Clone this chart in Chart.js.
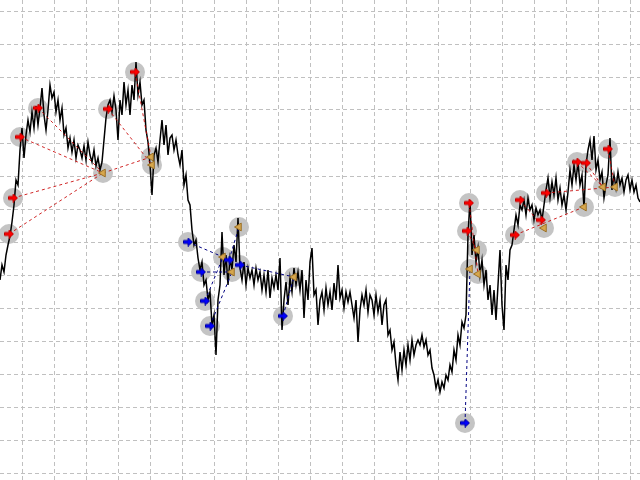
<!DOCTYPE html>
<html>
<head>
<meta charset="utf-8">
<script src="https://cdn.jsdelivr.net/npm/chart.js@4.4.0/dist/chart.umd.min.js"></script>
<style>
  html, body { margin: 0; padding: 0; background: #fff; }
  #wrap { width: 640px; height: 480px; }
</style>
</head>
<body>
<div id="wrap"><canvas id="chart" width="640" height="480"></canvas></div>
<script>
// closing prices, one per bar
const closes = [
  200, 215, 208, 225, 235, 244, 258, 275, 300, 295, 330, 352, 322, 345, 360, 348, 368, 352, 374, 355,
  372, 392, 365, 350, 370, 395, 382, 388, 368, 380, 360, 372, 345, 352, 332, 342, 328, 340, 322, 335,
  330, 322, 334, 320, 338, 325, 318, 330, 314, 322, 310, 318, 340, 362, 375, 380, 368, 384, 370, 340,
  380, 365, 398, 375, 390, 365, 395, 380, 418, 385, 398, 375, 380, 350, 338, 315, 285, 325, 332, 318,
  340, 360, 335, 355, 325, 342, 345, 330, 340, 325, 315, 330, 295, 305, 280, 275, 250, 235, 240, 222,
  210, 218, 195, 200, 180, 188, 155, 165, 125, 180, 195, 248, 205, 225, 195, 222, 210, 235, 218, 262,
  212, 200, 218, 195, 212, 202, 210, 195, 212, 200, 208, 190, 205, 188, 210, 182, 202, 192, 205, 190,
  222, 150, 180, 198, 175, 202, 188, 212, 195, 208, 190, 210, 162, 200, 180, 218, 232, 185, 190, 155,
  180, 188, 170, 192, 175, 188, 170, 197, 180, 215, 182, 190, 172, 188, 178, 188, 175, 162, 180, 138,
  170, 185, 175, 190, 168, 185, 180, 165, 185, 168, 180, 155, 175, 180, 145, 150, 130, 138, 115, 100,
  128, 110, 130, 115, 135, 120, 140, 125, 135, 140, 135, 145, 133, 140, 125, 130, 112, 105, 92, 100,
  88, 98, 92, 105, 100, 115, 108, 130, 120, 145, 135, 158, 152, 165, 245, 280, 225, 245, 218, 232,
  205, 220, 195, 210, 180, 195, 165, 190, 160, 195, 230, 175, 150, 215, 200, 230, 235, 250, 265, 255,
  275, 270, 280, 265, 282, 270, 275, 260, 272, 265, 270, 260, 275, 290, 302, 282, 298, 285, 302, 280,
  292, 275, 285, 270, 288, 310, 295, 315, 300, 318, 295, 305, 272, 315, 330, 340, 320, 344, 310, 320,
  300, 308, 282, 295, 305, 342, 290, 305, 292, 308, 295, 302, 288, 300, 305, 290, 300, 288, 295, 282,
  278
];

// long entries (red arrows)
const entryBars   = [4.5, 6.5, 10, 19, 54, 67.5, 233.5, 234.5, 257.5, 260, 270.5, 273, 288.5, 293, 304];
const entryPrices = [246, 282, 343, 372, 371, 408, 249, 277, 245, 280, 260, 287, 318, 317, 331];

// exits (gold triangles)
const exitBars   = [51.5, 75.5, 76, 111.5, 116, 119.5, 147, 235, 238.5, 239, 272, 292, 301.5, 307.5];
const exitPrices = [307, 323, 315, 223, 208, 253, 203, 211, 230, 206, 252, 273, 293, 293];

// short entries (blue arrows)
const shortBars   = [94, 100.5, 102.5, 105, 114.5, 120, 141.5, 232.5];
const shortPrices = [238, 208, 179, 154, 220, 215, 164, 57];

// [entry index, exit index]
const entryLinks = [[0, 0], [1, 0], [2, 0], [3, 0], [4, 2], [5, 1], [6, 8], [7, 9],
  [8, 11], [9, 10], [11, 13], [12, 12], [13, 12], [14, 13]];
const exitLinks = [[0, 1]];
const shortLinks = [[0, 3], [1, 4], [2, 3], [3, 4], [4, 5], [5, 6], [6, 6], [7, 7]];

const xGridBars = [11, 27, 43, 59, 75, 91, 107, 123, 139, 155, 171, 187, 203, 219, 235, 251, 267, 283, 299, 315];
const yGridPrices = [7, 40, 73, 106, 139, 172, 205, 238, 271, 304, 337, 370, 403, 436, 469];

function arrowIcon( color, edge ) {
	const c = document.createElement( 'canvas' );
	c.width = 10;
	c.height = 9;
	const g = c.getContext( '2d' );
	g.fillStyle = color;
	g.strokeStyle = edge;
	g.lineWidth = 1;
	g.beginPath();
	g.moveTo( 0.5, 3 );
	g.lineTo( 5, 3 );
	g.lineTo( 5, 0.5 );
	g.lineTo( 9.5, 4.5 );
	g.lineTo( 5, 8.5 );
	g.lineTo( 5, 6 );
	g.lineTo( 0.5, 6 );
	g.closePath();
	g.fill();
	g.stroke();
	return c;
}

const pts = ( bars, prices ) => bars.map( ( b, i ) => ( { x: b, y: prices[ i ] } ) );
const entries = pts( entryBars, entryPrices );
const exits = pts( exitBars, exitPrices );
const shorts = pts( shortBars, shortPrices );

function link( a, b, color, order ) {
	return {
		type: 'line',
		data: [ a, b ],
		borderColor: color,
		borderWidth: 1,
		borderDash: [ 3, 3 ],
		pointRadius: 0,
		fill: false,
		order: order
	};
}

const datasets = [];

datasets.push( {
	type: 'scatter',
	data: entries.concat( exits, shorts ),
	pointRadius: 10,
	pointHoverRadius: 10,
	backgroundColor: '#c4c4c4',
	borderWidth: 0,
	order: 5
} );

datasets.push( {
	type: 'line',
	data: closes.map( ( v, i ) => ( { x: i, y: v } ) ),
	borderColor: '#000',
	borderWidth: 1.5,
	pointRadius: 0,
	tension: 0,
	order: 4
} );

entryLinks.forEach( ( [ a, b ] ) => datasets.push( link( entries[ a ], exits[ b ], 'rgba(200,0,0,0.85)', 3 ) ) );
exitLinks.forEach( ( [ a, b ] ) => datasets.push( link( exits[ a ], exits[ b ], 'rgba(200,0,0,0.85)', 3 ) ) );
shortLinks.forEach( ( [ a, b ] ) => datasets.push( link( shorts[ a ], exits[ b ], '#000080', 3 ) ) );

datasets.push( {
	type: 'scatter',
	data: exits,
	pointStyle: 'triangle',
	rotation: -90,
	pointRadius: 4.5,
	backgroundColor: '#d6a64c',
	borderColor: '#9a7028',
	borderWidth: 1,
	order: 1
} );

datasets.push( {
	type: 'scatter',
	data: entries,
	pointStyle: arrowIcon( '#ff0000', '#c00000' ),
	order: 0
} );

datasets.push( {
	type: 'scatter',
	data: shorts,
	pointStyle: arrowIcon( '#0000ff', '#0000a0' ),
	order: 0
} );

new Chart( document.getElementById( 'chart' ), {
	type: 'line',
	data: { datasets },
	options: {
		responsive: false,
		animation: false,
		events: [],
		layout: { padding: 0, autoPadding: false },
		plugins: { legend: { display: false }, tooltip: { enabled: false } },
		scales: {
			x: {
				type: 'linear',
				min: 0,
				max: 320,
				afterBuildTicks: axis => { axis.ticks = xGridBars.map( v => ( { value: v } ) ); },
				ticks: { display: false },
				grid: { color: '#c0c0c0', lineWidth: 1, drawTicks: false },
				border: { display: false, dash: [ 4, 3 ] }
			},
			y: {
				type: 'linear',
				min: 0,
				max: 480,
				afterBuildTicks: axis => { axis.ticks = yGridPrices.map( v => ( { value: v } ) ); },
				ticks: { display: false },
				grid: { color: '#c0c0c0', lineWidth: 1, drawTicks: false },
				border: { display: false, dash: [ 4, 3 ] }
			}
		}
	}
} );
</script>
</body>
</html>
